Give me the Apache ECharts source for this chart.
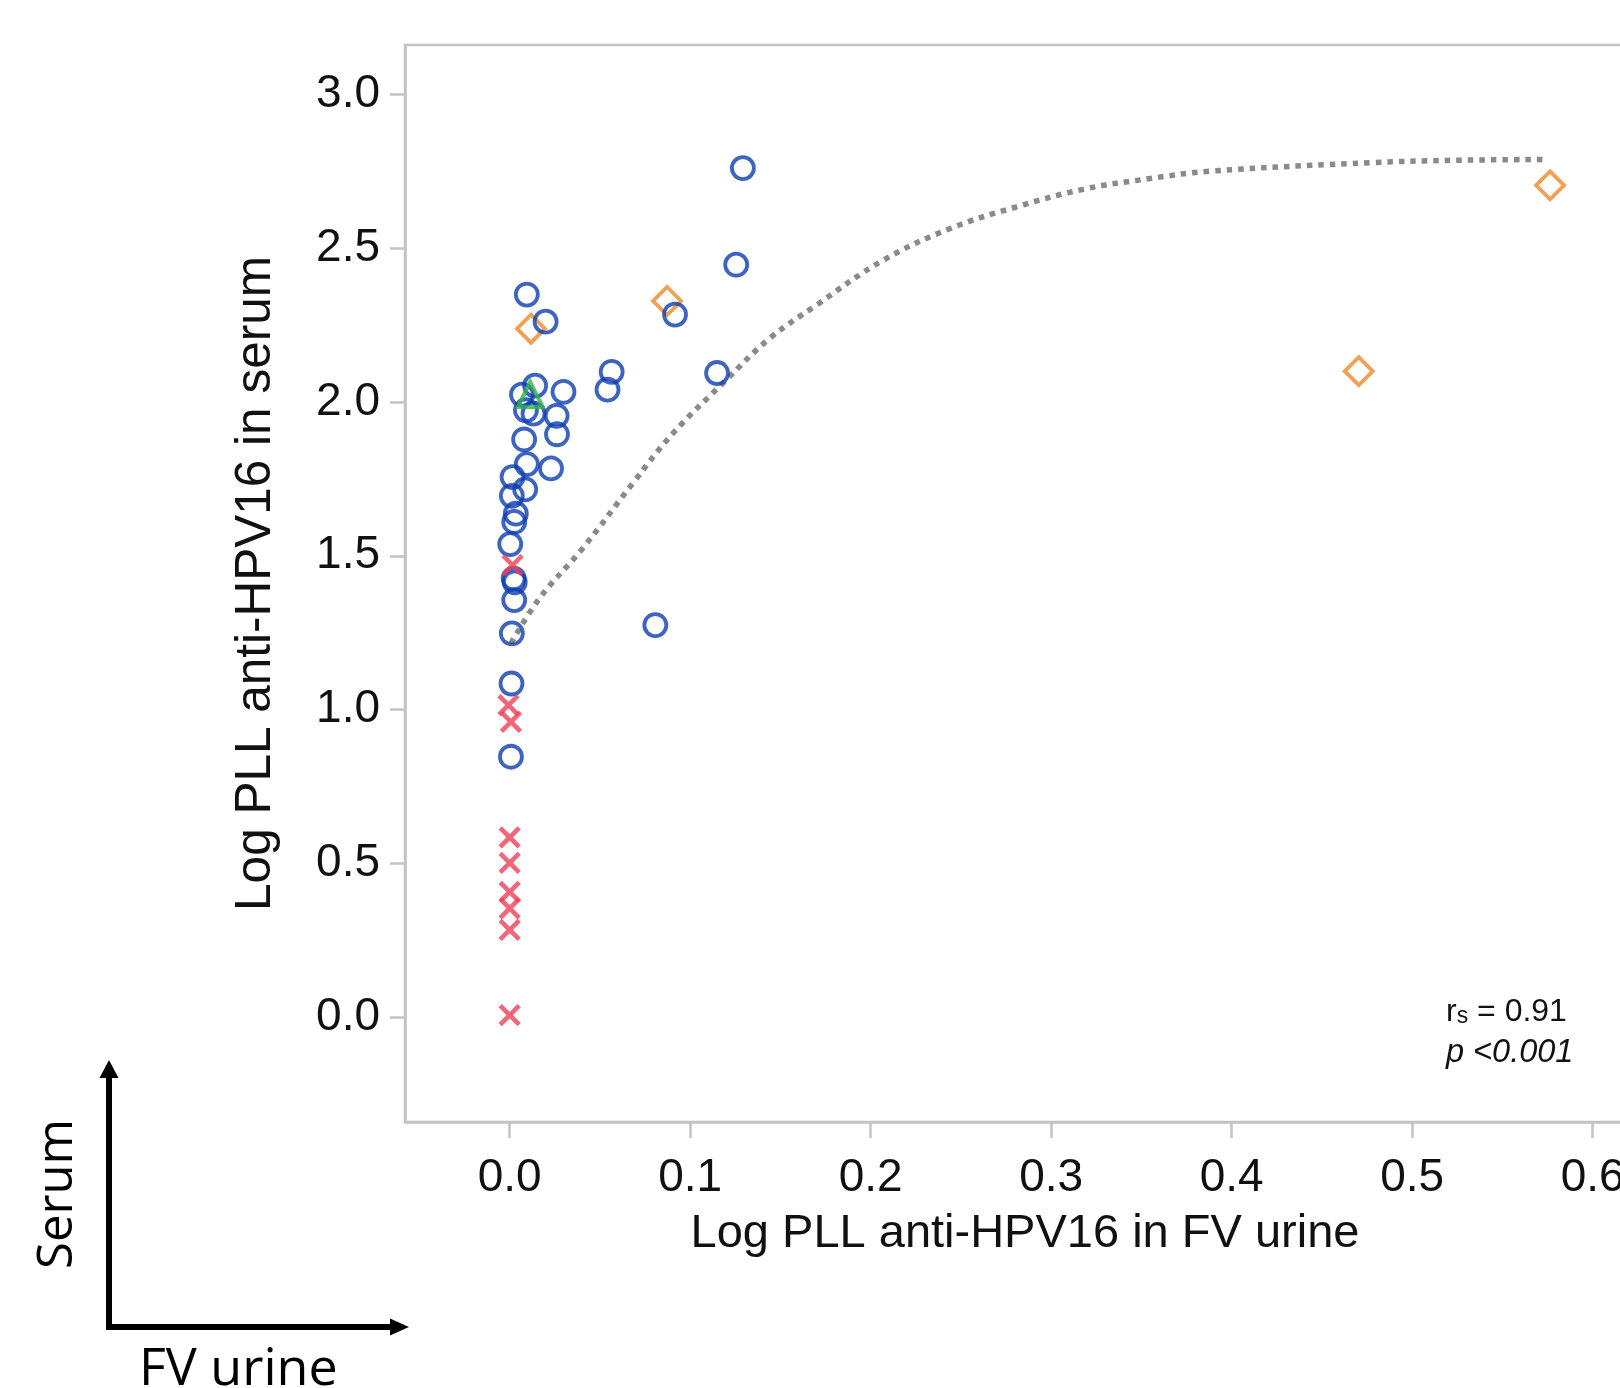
<!DOCTYPE html>
<html>
<head>
<meta charset="utf-8">
<script src="https://cdn.jsdelivr.net/npm/echarts@6/dist/echarts.min.js"></script>
<style>
  html, body { margin: 0; padding: 0; background: #fff; }
  #main { width: 1620px; height: 1388px; }
</style>
</head>
<body>
<div id="main"></div>
<script>
// tick labels
const xTicks = [0, 0.1, 0.2, 0.3, 0.4, 0.5, 0.6];
const yTicks = [0, 0.5, 1.0, 1.5, 2.0, 2.5, 3.0];

// blue circles (urine, serum)
const circles = [
  [0.1292, 2.760], [0.1255, 2.446], [0.0095, 2.349], [0.0199, 2.261], [0.0916, 2.284],
  [0.0565, 2.098], [0.0542, 2.040], [0.1149, 2.094], [0.0141, 2.053], [0.0068, 2.024],
  [0.0298, 2.033], [0.0090, 1.973], [0.0132, 1.962], [0.0260, 1.955], [0.0262, 1.895],
  [0.0080, 1.878], [0.0095, 1.798], [0.0229, 1.784], [0.0016, 1.756], [0.0086, 1.716],
  [0.0012, 1.695], [0.0034, 1.637], [0.0025, 1.610], [0.0003, 1.538], [0.0022, 1.426],
  [0.0028, 1.414], [0.0025, 1.356], [0.0012, 1.248], [0.0807, 1.275], [0.0010, 1.085],
  [0.0007, 0.847]
];
// orange diamonds
const diamonds = [[0.0118, 2.238], [0.0872, 2.328], [0.4704, 2.100], [0.5764, 2.704]];
// green triangle
const triangles = [[0.0114, 2.024]];
// red crosses
const crosses = [
  [0.0016, 1.470], [-0.0007, 1.015], [0.0007, 0.960], [0, 0.585], [0, 0.502],
  [0, 0.408], [0, 0.354], [0, 0.284], [0, 0.007]
];
// dotted fit curve
const fitCurve = [
  [0.0007, 1.215], [0.0164, 1.361], [0.0404, 1.524], [0.0681, 1.735], [0.0903, 1.897],
  [0.1199, 2.071], [0.1439, 2.206], [0.1698, 2.314], [0.2068, 2.460], [0.2438, 2.563],
  [0.2808, 2.634], [0.3177, 2.691], [0.3547, 2.726], [0.3880, 2.750], [0.4797, 2.778],
  [0.5191, 2.785], [0.5747, 2.788]
];

const axisGray = '#c3c3c3';
const font = 'Liberation Sans';

const chart = echarts.init(document.getElementById('main'), null, { renderer: 'canvas' });

function hollow(color, bw) {
  return { color: 'rgba(0,0,0,0)', borderColor: color, borderWidth: bw };
}

const option = {
  animation: false,
  backgroundColor: '#fff',
  grid: {
    left: 405, top: 45, width: 1240, height: 1077,
    containLabel: false, outerBoundsMode: 'none',
    show: true, borderColor: axisGray, borderWidth: 2.5
  },
  xAxis: {
    type: 'value', min: -0.058, max: 0.629,
    name: 'Log PLL anti-HPV16 in FV urine',
    nameLocation: 'middle', nameGap: 89,
    nameTextStyle: { fontFamily: font, fontSize: 47, color: '#111' },
    axisLine: { show: true, onZero: false, lineStyle: { color: axisGray, width: 2.5 } },
    axisTick: { show: true, length: 16, customValues: xTicks, lineStyle: { color: axisGray, width: 2.5 } },
    axisLabel: {
      customValues: xTicks, margin: 33,
      fontFamily: font, fontSize: 46, color: '#111',
      formatter: v => v.toFixed(1)
    },
    splitLine: { show: false }
  },
  yAxis: {
    type: 'value', min: -0.34, max: 3.16,
    name: 'Log PLL anti-HPV16 in serum',
    nameLocation: 'middle', nameGap: 124, nameRotate: 90,
    nameTextStyle: { fontFamily: font, fontSize: 49.5, color: '#111' },
    axisLine: { show: true, onZero: false, lineStyle: { color: axisGray, width: 2.5 } },
    axisTick: { show: true, length: 15, customValues: yTicks, lineStyle: { color: axisGray, width: 2.5 } },
    axisLabel: {
      customValues: yTicks, margin: 25, padding: [6, 0, 0, 0],
      fontFamily: font, fontSize: 46, color: '#111',
      formatter: v => v.toFixed(1)
    },
    splitLine: { show: false }
  },
  series: [
    {
      type: 'line', data: fitCurve, smooth: 0.4, showSymbol: false, z: 1,
      lineStyle: { color: '#8a8a8a', width: 5.5, type: [5.5, 6], cap: 'butt' }
    },
    {
      type: 'scatter', data: circles, symbol: 'circle', symbolSize: 22, z: 3,
      itemStyle: hollow('#0b3db0', 3.8)
    },
    {
      type: 'scatter', data: diamonds, symbol: 'diamond', symbolSize: 28, z: 2,
      itemStyle: hollow('#ec8a28', 3.8)
    },
    {
      type: 'scatter', data: triangles, symbol: 'triangle', symbolSize: 25, z: 4,
      itemStyle: hollow('#2fb245', 4)
    },
    {
      type: 'scatter', data: crosses, symbol: 'path://M0,0L10,10M10,0L0,10', symbolSize: 19, z: 4,
      itemStyle: hollow('#f03f58', 4.6)
    }
  ],
  graphic: [
    {
      type: 'text', x: 1446, y: 1012,
      style: {
        text: '{a|r}{s|s}{a| = 0.91}',
        verticalAlign: 'middle', align: 'left',
        rich: {
          a: { fontFamily: font, fontSize: 32, fill: '#111', verticalAlign: 'bottom' },
          s: { fontFamily: font, fontSize: 23, fill: '#111', verticalAlign: 'bottom', lineHeight: 12 }
        }
      }
    },
    {
      type: 'text', x: 1446, y: 1053,
      style: {
        text: 'p <0.001', font: 'italic 32.5px "Liberation Sans"', fill: '#111',
        verticalAlign: 'middle', align: 'left'
      }
    },
    // axis key, bottom left
    { type: 'line', shape: { x1: 109, y1: 1330, x2: 109, y2: 1076 }, style: { stroke: '#000', lineWidth: 6 } },
    { type: 'polygon', shape: { points: [[99.5, 1078], [118.5, 1078], [109, 1060]] }, style: { fill: '#000' } },
    { type: 'line', shape: { x1: 106, y1: 1327, x2: 392, y2: 1327 }, style: { stroke: '#000', lineWidth: 6 } },
    { type: 'polygon', shape: { points: [[390, 1318.5], [390, 1335.5], [409, 1327]] }, style: { fill: '#000' } },
    {
      type: 'text', x: 58, y: 1194, rotation: Math.PI / 2,
      style: { text: 'Serum', font: '49px "Open Sans"', fill: '#000', align: 'center', verticalAlign: 'middle' }
    },
    {
      type: 'text', x: 139, y: 1344,
      style: { text: 'FV urine', font: '52px "Open Sans"', fill: '#000', align: 'left', verticalAlign: 'top' }
    }
  ]
};

chart.setOption(option);
</script>
</body>
</html>
